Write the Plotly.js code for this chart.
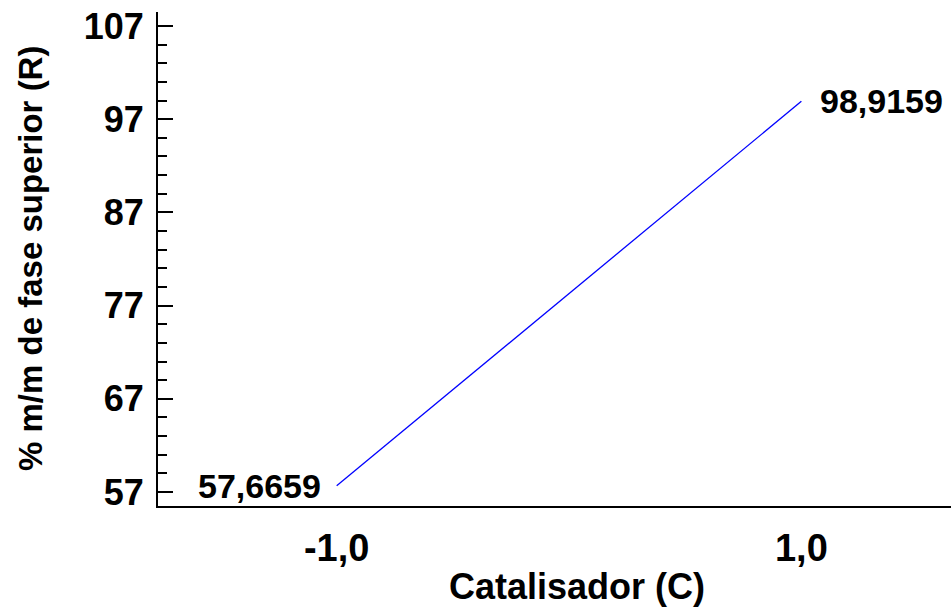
<!DOCTYPE html>
<html>
<head>
<meta charset="utf-8">
<script src="https://cdn.plot.ly/plotly-3.0.1.min.js"></script>
<style>
  html, body { margin: 0; padding: 0; background: #fff; }
  #chart { width: 951px; height: 608px; }
</style>
</head>
<body>
<div id="chart"></div>
<script>
// Coded factor levels and the fitted response at each end
const catalisador = [-1, 1];
const respuesta = [57.6659, 98.9159];

// Axis ticks
const xTickVals = [-1, 1];
const xTickText = ['-1,0', '1,0'];
const yTickVals = [57, 67, 77, 87, 97, 107];

const FONT = 'Liberation Sans, Arial, Helvetica, sans-serif';
const fmt = v => v.toFixed(4).replace('.', ',');

const trace = {
  x: catalisador,
  y: respuesta,
  type: 'scatter',
  mode: 'lines',
  line: { color: '#0000ff', width: 1.3 },
  hoverinfo: 'skip'
};

const labels = [
  { x: catalisador[0], y: respuesta[0], text: fmt(respuesta[0]),
    xanchor: 'right', yanchor: 'middle', xshift: -14 },
  { x: catalisador[1], y: respuesta[1], text: fmt(respuesta[1]),
    xanchor: 'left', yanchor: 'middle', xshift: 17 }
].map(a => Object.assign({
  xref: 'x', yref: 'y', showarrow: false,
  font: { family: FONT, size: 34, color: '#000', weight: 'bold' }
}, a));

const titles = [
  { text: 'Catalisador (C)', xref: 'paper', yref: 'paper',
    x: 0, xshift: 577 - 158, y: 0, yshift: -80,
    xanchor: 'center', yanchor: 'middle', showarrow: false,
    font: { family: FONT, size: 36, color: '#000', weight: 'bold' } },
  { text: '% m/m de fase superior (R)', xref: 'paper', yref: 'paper',
    x: 0, xshift: -128, y: 0.5, textangle: -90,
    xanchor: 'center', yanchor: 'middle', showarrow: false,
    font: { family: FONT, size: 33, color: '#000', weight: 'bold' } }
];

const layout = {
  width: 951,
  height: 608,
  margin: { l: 158, r: 0, t: 12, b: 102, pad: 0 },
  paper_bgcolor: '#fff',
  plot_bgcolor: '#fff',
  showlegend: false,
  xaxis: {
    range: [-1.769, 1.644],
    tickvals: xTickVals,
    ticktext: xTickText,
    ticks: '',
    showgrid: false,
    zeroline: false,
    showline: true,
    linecolor: '#000',
    linewidth: 2,
    mirror: false,
    ticklabelstandoff: 7,
    tickfont: { family: FONT, size: 38, color: '#000', weight: 'bold' }
  },
  yaxis: {
    range: [55.5, 108.5],
    tickvals: yTickVals,
    ticks: 'inside',
    ticklen: 15,
    tickwidth: 2,
    tickcolor: '#000',
    minor: { dtick: 2, tick0: 57, ticks: 'inside', ticklen: 9, tickwidth: 2, tickcolor: '#000', showgrid: false },
    showgrid: false,
    zeroline: false,
    showline: true,
    linecolor: '#000',
    linewidth: 2,
    ticklabelstandoff: 5,
    tickfont: { family: FONT, size: 36, color: '#000', weight: 'bold' }
  },
  annotations: labels.concat(titles)
};

Plotly.newPlot('chart', [trace], layout, { displayModeBar: false, staticPlot: true });
</script>
</body>
</html>
